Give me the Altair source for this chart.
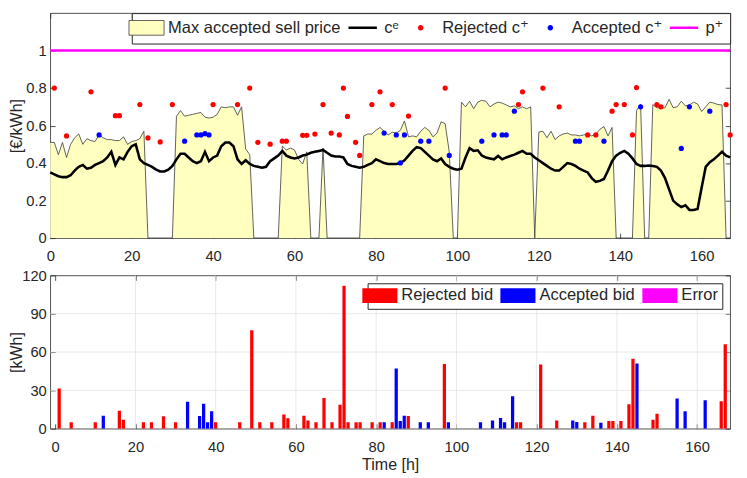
import altair as alt
import pandas as pd

# ---------------- data ----------------
hours = list(range(168))

ce = [0.35, 0.34, 0.33, 0.325, 0.325, 0.335, 0.36, 0.38, 0.39, 0.37,
      0.375, 0.39, 0.40, 0.41, 0.43, 0.46, 0.39, 0.43, 0.42, 0.46,
      0.49, 0.50, 0.42, 0.40, 0.39, 0.38, 0.365, 0.355, 0.355, 0.365,
      0.385, 0.42, 0.45, 0.45, 0.43, 0.41, 0.40, 0.41, 0.46, 0.41,
      0.43, 0.44, 0.49, 0.51, 0.51, 0.49, 0.42, 0.395, 0.415, 0.395,
      0.385, 0.38, 0.375, 0.38, 0.41, 0.425, 0.44, 0.465, 0.44, 0.43,
      0.425, 0.43, 0.44, 0.445, 0.455, 0.46, 0.465, 0.47, 0.455, 0.44,
      0.435, 0.435, 0.43, 0.395, 0.385, 0.38, 0.375, 0.38, 0.39, 0.40,
      0.42, 0.41, 0.40, 0.395, 0.395, 0.395, 0.40, 0.415, 0.44, 0.465,
      0.485, 0.48, 0.46, 0.44, 0.42, 0.41, 0.425, 0.395, 0.38, 0.37,
      0.365, 0.37, 0.43, 0.48, 0.465, 0.468, 0.44, 0.43, 0.425, 0.42,
      0.438, 0.42, 0.43, 0.438, 0.445, 0.455, 0.465, 0.45, 0.45, 0.43,
      0.415, 0.40, 0.385, 0.37, 0.36, 0.36, 0.38, 0.40, 0.395, 0.385,
      0.37, 0.36, 0.35, 0.32, 0.30, 0.305, 0.315, 0.36, 0.41, 0.44,
      0.455, 0.465, 0.45, 0.425, 0.395, 0.385, 0.385, 0.387, 0.385, 0.38,
      0.36, 0.32, 0.26, 0.20, 0.18, 0.165, 0.175, 0.15, 0.15, 0.155,
      0.27, 0.38, 0.405, 0.42, 0.44, 0.46, 0.44, 0.43]

max_price = [0.51, 0.51, 0.445, 0.51, 0.43, 0.50, 0.535, 0.555, 0.50, 0.53,
             0.52, 0.515, 0.55, 0.535, 0.525, 0.525, 0.52, 0.52, 0.54, 0.50,
             0.515, 0.52, 0.53, 0.57, 0, 0, 0, 0, 0, 0,
             0, 0.65, 0.68, 0.65, 0.655, 0.66, 0.665, 0.67, 0.645, 0.64,
             0.645, 0.66, 0.70, 0.695, 0.70, 0.70, 0.655, 0.70, 0.475, 0.445,
             0, 0, 0, 0, 0, 0, 0, 0.49, 0.47, 0.48,
             0.47, 0.42, 0.395, 0.46, 0, 0, 0, 0.48, 0, 0,
             0, 0, 0, 0, 0, 0, 0, 0.545, 0.555, 0.555,
             0.575, 0.59, 0.57, 0.55, 0.565, 0.56, 0.575, 0.625, 0.54, 0.545,
             0.54, 0.57, 0.59, 0.575, 0.54, 0.56, 0.62, 0.61, 0.46, 0,
             0, 0.725, 0.70, 0.73, 0.69, 0.725, 0.735, 0.73, 0.70, 0.715,
             0.725, 0.72, 0.71, 0.70, 0.705, 0.69, 0.70, 0.69, 0.70, 0,
             0.565, 0.57, 0.535, 0.57, 0.525, 0.545, 0.555, 0.56, 0.55, 0.55,
             0.545, 0.55, 0.555, 0.545, 0.555, 0.58, 0.595, 0.545, 0.59, 0,
             0, 0, 0, 0, 0.68, 0.715, 0, 0, 0.712, 0.695,
             0.695, 0.695, 0.74, 0.695, 0.70, 0.73, 0.705, 0.71, 0.725, 0.715,
             0.675, 0.70, 0.725, 0.72, 0.712, 0.71, 0, 0]

rej_h = [1, 4, 10, 16, 17, 22, 24, 27, 30, 40, 46, 49, 51, 54, 57, 58, 62, 63,
         65, 67, 69, 71, 72, 73, 75, 76, 79, 81, 84, 88, 97, 115, 116, 121, 125,
         132, 134, 138, 139, 141, 143, 144, 149, 150, 166, 167]
rej_price = [0.80, 0.545, 0.78, 0.653, 0.653, 0.712, 0.534, 0.513, 0.712, 0.712,
             0.712, 0.80, 0.511, 0.501, 0.517, 0.517, 0.548, 0.548, 0.555, 0.712,
             0.56, 0.55, 0.80, 0.649, 0.511, 0.441, 0.712, 0.78, 0.712, 0.651,
             0.80, 0.712, 0.78, 0.80, 0.70, 0.55, 0.55, 0.677, 0.712, 0.712,
             0.55, 0.803, 0.712, 0.70, 0.712, 0.55]
rej_kwh = [31.5, 5, 5, 14, 7, 5, 5, 9.7, 5, 5, 5, 77, 5, 5, 11.2, 8.2, 10.2, 6.4,
           5, 24, 5, 18.7, 112, 5, 5, 5, 5, 5, 5, 10, 50.7, 5, 5, 50.2, 6.4,
           5, 10.2, 6, 6, 6, 19.2, 54.8, 7, 11.8, 21.5, 66.2]

acc_h = [12, 33, 36, 37, 38, 39, 82, 85, 86, 87, 91, 93, 98, 106, 109, 111, 112,
         114, 129, 130, 136, 145, 155, 157, 162]
acc_price = [0.55, 0.517, 0.55, 0.55, 0.557, 0.55, 0.56, 0.55, 0.401, 0.55, 0.517,
             0.517, 0.441, 0.517, 0.55, 0.55, 0.55, 0.677, 0.517, 0.517, 0.517,
             0.70, 0.478, 0.70, 0.677]
acc_kwh = [10.2, 21, 9.9, 19.5, 5, 13.6, 5, 47.2, 6.1, 10.2, 5, 5, 5, 5, 6.4, 8.4,
           5, 25.4, 6.4, 5.2, 4.6, 51, 23.6, 13.6, 22.3]

p_plus_h = [0, 167]
p_plus = [1.0, 1.0]

x_ticks = [0, 20, 40, 60, 80, 100, 120, 140, 160]
x_grid = [20, 40, 60, 80, 100, 120, 140, 160]
y_ticks_top = [0, 0.2, 0.4, 0.6, 0.8, 1.0]
y_ticks_bot = [0, 30, 60, 90, 120]
y_grid_bot = [30, 60, 90]

top_names = ["Max accepted sell price", "c\u1d49", "Rejected c\u207a",
             "Accepted c\u207a", "p\u207a"]
bot_names = ["Rejected bid", "Accepted bid", "Error"]

# ---------------- styling ----------------
FONT = "Liberation Sans"
LEG_FONT = "Liberation Sans, DejaVu Sans"
TXT = "#262626"
YELLOW = "#FFFFC0"
RED = "#FF0000"
BLUE = "#0000FF"
MAGENTA = "#FF00FF"

# legend symbols (unit = 8.5 px, symbolSize 289); invisible moves give every
# symbol the same 36 px wide footprint, like MATLAB's legend icon area
RECT = "M-2.1,-0.88H2.1V0.88H-2.1Z"
LINE = "M-2.1,0M-1.7,-0.15H1.7V0.15H-1.7ZM2.1,0"
DOT = "M-2.1,0M-0.33,0A0.33,0.33,0,1,1,0.33,0A0.33,0.33,0,1,1,-0.33,0ZM2.1,0"
SYM_SIZE = 289

xscale = alt.Scale(domain=[0, 167], nice=False, zero=False)
yscale_top = alt.Scale(domain=[0, 1.2], nice=False)
yscale_bot = alt.Scale(domain=[0, 120], nice=False)


def ax_main(orient, values, title=None, fmt=None, pad=4):
    kw = dict(orient=orient, values=values, offset=-5, tickSize=5, tickWidth=0.8,
              tickColor=TXT, domain=False, grid=False, labelPadding=pad,
              labelFontSize=15, labelColor=TXT, labelFont=FONT, labelFlush=False,
              labelOverlap=False)
    if fmt:
        kw["format"] = fmt
    if title is not None:
        kw.update(title=title, titleFontSize=16.3, titleFontWeight="normal",
                  titleColor=TXT, titleFont=FONT)
        if orient == "left":
            kw["titleX"] = -31
        else:
            kw["titlePadding"] = 3
    else:
        kw["title"] = None
    return alt.Axis(**kw)


def ax_ticks(orient, values):
    return alt.Axis(orient=orient, values=values, offset=-5, tickSize=5,
                    tickWidth=0.8, tickColor=TXT, domain=False, grid=False,
                    labels=False, title=None)


# ---------------- top chart ----------------
df_price = pd.DataFrame({"h": hours, "ce": ce, "maxp": max_price})
df_rej = pd.DataFrame({"h": rej_h, "c": rej_price})
df_acc = pd.DataFrame({"h": acc_h, "c": acc_price})
df_p = pd.DataFrame({"h": p_plus_h, "p": p_plus})
df_leg = pd.DataFrame({"series": top_names})

area = alt.Chart(df_price).mark_area(
    color=YELLOW, opacity=1, line={"color": "#3a3a3a", "strokeWidth": 0.8}
).encode(
    x=alt.X("h:Q", scale=xscale, axis=ax_main("bottom", x_ticks, pad=11)),
    y=alt.Y("maxp:Q", scale=yscale_top,
            axis=ax_main("left", y_ticks_top, title="[\u20ac/kWh]", fmt="~g")),
)

ce_line = alt.Chart(df_price).mark_line(color="black", strokeWidth=2.6).encode(
    x=alt.X("h:Q", scale=xscale, axis=None),
    y=alt.Y("ce:Q", scale=yscale_top, axis=None),
)

p_line = alt.Chart(df_p).mark_line(color=MAGENTA, strokeWidth=2.6).encode(
    x=alt.X("h:Q", scale=xscale, axis=ax_ticks("top", x_ticks)),
    y=alt.Y("p:Q", scale=yscale_top, axis=ax_ticks("right", y_ticks_top)),
)

rej_pts = alt.Chart(df_rej).mark_circle(color=RED, size=28, opacity=1).encode(
    x=alt.X("h:Q", scale=xscale, axis=None),
    y=alt.Y("c:Q", scale=yscale_top, axis=None),
)

acc_pts = alt.Chart(df_acc).mark_circle(color=BLUE, size=28, opacity=1).encode(
    x=alt.X("h:Q", scale=xscale, axis=None),
    y=alt.Y("c:Q", scale=yscale_top, axis=None),
)

leg_top = alt.Legend(title=None, orient="top-right", offset=0, direction="horizontal",
                     columns=5, gridAlign="none", padding=6, columnPadding=2,
                     labelOffset=12.85, symbolSize=SYM_SIZE, symbolStrokeWidth=0.8,
                     labelLimit=400)

legend_layer = alt.Chart(df_leg).transform_filter("false").mark_point(
    filled=True, size=SYM_SIZE, opacity=1, strokeWidth=0.8
).encode(
    fill=alt.Fill("series:N", legend=leg_top,
                  scale=alt.Scale(domain=top_names,
                                  range=[YELLOW, "black", RED, BLUE, MAGENTA])),
    stroke=alt.Stroke("series:N", legend=leg_top,
                      scale=alt.Scale(domain=top_names,
                                      range=["#3a3a3a", "transparent", "transparent",
                                             "transparent", "transparent"])),
    shape=alt.Shape("series:N", legend=leg_top,
                    scale=alt.Scale(domain=top_names,
                                    range=[RECT, LINE, DOT, DOT, LINE])),
)

top = alt.layer(area, ce_line, p_line, rej_pts, acc_pts, legend_layer).resolve_axis(
    x="independent", y="independent"
).properties(width=692, height=229)

# ---------------- bottom chart ----------------
df_bars = pd.concat([
    pd.DataFrame({"h": rej_h, "kwh": rej_kwh, "bid": bot_names[0]}),
    pd.DataFrame({"h": acc_h, "kwh": acc_kwh, "bid": bot_names[1]}),
], ignore_index=True)

vgrid = alt.Chart(pd.DataFrame({"g": x_grid})).mark_rule(
    color="#e3e3e3", strokeWidth=0.8
).encode(x=alt.X("g:Q", scale=xscale, axis=ax_ticks("top", x_ticks)))

hgrid = alt.Chart(pd.DataFrame({"g": y_grid_bot})).mark_rule(
    color="#e3e3e3", strokeWidth=0.8
).encode(y=alt.Y("g:Q", scale=yscale_bot, axis=ax_ticks("right", y_ticks_bot)))

leg_bot = alt.Legend(title=None, orient="top-right", offset=8, direction="horizontal",
                     columns=3, gridAlign="none", padding=4, columnPadding=6.5,
                     labelOffset=13.35, symbolType=RECT, symbolSize=SYM_SIZE,
                     symbolStrokeWidth=0, labelLimit=400)

bars = alt.Chart(df_bars).mark_bar(size=3.3, clip=True).encode(
    x=alt.X("h:Q", scale=xscale, axis=ax_main("bottom", x_ticks, title="Time [h]", pad=11)),
    y=alt.Y("kwh:Q", scale=yscale_bot, axis=ax_main("left", y_ticks_bot, title="[kWh]")),
    color=alt.Color("bid:N", legend=leg_bot,
                    scale=alt.Scale(domain=bot_names, range=[RED, BLUE, MAGENTA])),
)

bottom = alt.layer(vgrid, hgrid, bars).resolve_axis(
    x="independent", y="independent"
).properties(width=692, height=156)

chart = alt.vconcat(top, bottom, spacing=3).resolve_scale(
    fill="independent", stroke="independent", shape="independent", color="independent"
).resolve_legend(
    fill="independent", stroke="independent", shape="independent", color="independent"
).properties(
    padding={"left": 0, "top": 0, "right": 3, "bottom": 0}
).configure(font=FONT).configure_view(
    stroke=TXT, strokeWidth=0.8
).configure_legend(
    fillColor="white", strokeColor=TXT, labelFont=LEG_FONT, labelFontSize=16.8,
    labelColor=TXT, cornerRadius=0
)

chart.save("out.html", embed_options={"renderer": "svg", "actions": False})
